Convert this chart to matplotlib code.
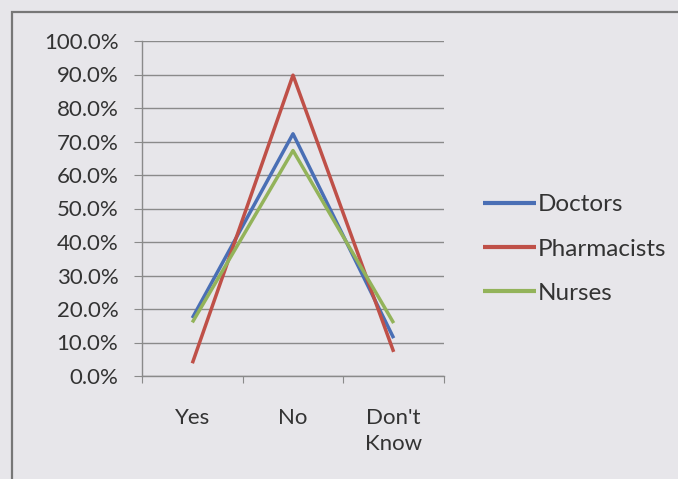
import matplotlib.pyplot as plt
import matplotlib.patches as mpatches
from matplotlib.ticker import FuncFormatter, FixedLocator

plt.rcParams['font.family'] = ['Lato', 'DejaVu Sans']

# ---- data ----
categories = ["Yes", "No", "Don't\nKnow"]
doctors = [17.3, 72.3, 11.3]
pharmacists = [3.8, 89.8, 7.2]
nurses = [16.0, 67.3, 15.8]

series_names = ["Doctors", "Pharmacists", "Nurses"]
series_colors = ['#4a6fb5', '#bf5048', '#93b35a']

BG = '#e7e6ea'
GRID = '#8a8a8a'
TEXT = '#333333'

fig = plt.figure(figsize=(6.78, 4.79), dpi=100)
fig.patch.set_facecolor(BG)

# outer chart border (right/bottom fall outside the crop)
fig.patches.append(mpatches.Rectangle((11.5 / 678, -0.1), 1.0, 1 - 12.5 / 479 + 0.1,
                                      transform=fig.transFigure, fill=False,
                                      edgecolor='#777777', linewidth=1.6))

ax = fig.add_axes([142 / 678, 103 / 479, 302 / 678, 335 / 479])
ax.set_facecolor(BG)

x = range(len(categories))
for vals, name, col in zip([doctors, pharmacists, nurses], series_names, series_colors):
    ax.plot(x, vals, color=col, linewidth=2.5, label=name, solid_capstyle='butt')

ax.set_xlim(-0.5, 2.5)
ax.set_ylim(0, 100)
ax.set_yticks(range(0, 101, 10))
ax.yaxis.set_major_formatter(FuncFormatter(lambda v, p: f"{v:.1f}%"))
ax.yaxis.grid(True, color=GRID, linewidth=1.0)
ax.set_axisbelow(True)

ax.xaxis.set_major_locator(FixedLocator([-0.5, 0.5, 1.5, 2.5]))
ax.xaxis.set_major_formatter(FuncFormatter(lambda v, p: ""))
ax.set_xticks(list(x), minor=True)
ax.set_xticklabels(categories, minor=True, linespacing=1.35)
ax.tick_params(axis='x', which='minor', length=0, pad=23, labelsize=16, labelcolor=TEXT)
ax.tick_params(axis='x', which='major', length=5, color=GRID, direction='out')
ax.tick_params(axis='y', length=6, color=GRID, labelsize=16, labelcolor=TEXT, pad=11)

for s in ['top', 'right']:
    ax.spines[s].set_visible(False)
for s in ['left', 'bottom']:
    ax.spines[s].set_color(GRID)
    ax.spines[s].set_linewidth(1.0)

leg = fig.legend(loc='center left', bbox_to_anchor=(461 / 678, 1 - 249 / 479),
                 frameon=False, fontsize=17.5, handlelength=2.2, handletextpad=0.05,
                 labelspacing=0.95)
for t in leg.get_texts():
    t.set_color(TEXT)
for h in leg.get_lines():
    h.set_linewidth(3.0)

fig.savefig('out.png', dpi=100, facecolor=BG)
